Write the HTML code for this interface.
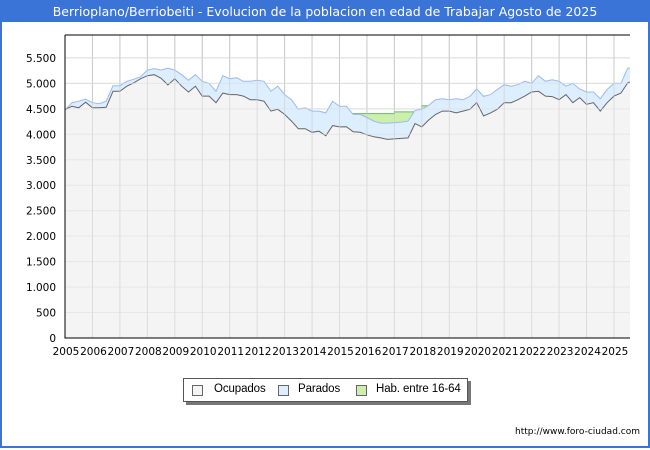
<!DOCTYPE html>
<html><head><meta charset="utf-8"><style>
body{margin:0;width:650px;height:450px;overflow:hidden;background:#fff;font-family:"DejaVu Sans","Liberation Sans",sans-serif}
#frame{position:absolute;left:0;top:0;width:646px;height:446px;border:2px solid #3a74d6;border-top:none}
#title{position:absolute;left:0;top:0;width:650px;height:22px;background:#3a74d6;color:#fff;font-size:12.5px;line-height:23px;text-align:center;white-space:nowrap}
#legend{position:absolute;left:183px;top:378px;width:283px;height:22px;border:1px solid #555;box-shadow:3px 3px 0 #777;background:#fff;font-size:10px;white-space:nowrap;font-family:"Liberation Sans",sans-serif;letter-spacing:-0.1px}
.sw{position:absolute;top:6px;width:9px;height:9px;border:1px solid #666}
.lt{position:absolute;top:4px;line-height:13px;font-size:11.5px}
#foot{position:absolute;right:10px;top:427px;font-size:9px;color:#000}
</style></head><body>
<div id="frame"></div>
<div id="title">Berrioplano/Berriobeiti - Evolucion de la poblacion en edad de Trabajar Agosto de 2025</div>
<svg id="chart" width="650" height="450" style="position:absolute;left:0;top:0"></svg>
<div id="legend">
<span class="sw" style="left:8px;background:#f4f4f4"></span>
<span class="lt" style="left:30px">Ocupados</span>
<span class="sw" style="left:94px;background:#ddeeff"></span>
<span class="lt" style="left:114px">Parados</span>
<span class="sw" style="left:172px;background:#ccf0aa"></span>
<span class="lt" style="left:192px">Hab. entre 16-64</span>
</div>
<div id="foot">http://www.foro-ciudad.com</div>
<script>
const years=[2005,2006,2007,2008,2009,2010,2011,2012,2013,2014,2015,2016,2017,2018,2019,2020,2021,2022,2023,2024,2025];
const yTicks=[0,500,1000,1500,2000,2500,3000,3500,4000,4500,5000,5500];
const yTickLabels=["0","500","1.000","1.500","2.000","2.500","3.000","3.500","4.000","4.500","5.000","5.500"];
const ocupados=[4485,4550,4520,4630,4520,4520,4530,4845,4845,4945,5010,5090,5150,5170,5100,4970,5090,4945,4830,4945,4750,4750,4620,4810,4780,4780,4750,4680,4680,4650,4455,4490,4390,4260,4110,4110,4040,4060,3970,4170,4145,4150,4050,4040,3990,3950,3930,3900,3910,3920,3930,4210,4145,4280,4390,4455,4455,4420,4455,4490,4620,4360,4420,4490,4620,4620,4680,4750,4830,4845,4750,4740,4680,4780,4620,4720,4590,4620,4455,4620,4750,4810,5010,5030];
const activos=[4480,4620,4650,4690,4620,4600,4650,4955,4955,5040,5080,5130,5260,5290,5260,5300,5260,5170,5060,5170,5040,5000,4845,5150,5090,5110,5040,5040,5060,5040,4845,4945,4780,4680,4490,4520,4455,4455,4420,4650,4550,4550,4390,4390,4330,4260,4220,4220,4230,4240,4260,4470,4490,4570,4680,4700,4680,4700,4680,4745,4890,4745,4780,4880,4975,4945,4975,5040,5000,5150,5040,5070,5040,4945,5000,4890,4830,4830,4700,4880,5000,5000,5300,5300];
const hab=[4450,4480,4800,5100,4900,4800,4800,4750,4450,4390,4405,4405,4440,4560,4650,4750,4800,4900,4750,4650,4700];
const X0=65,X1=630,Y0=338,Y1=35,T0=2005,T1=2025+7/12,VMAX=5950;
const xs=t=>X0+(t-T0)/(T1-T0)*(X1-X0);
const ys=v=>Y0-v/VMAX*(Y0-Y1);
const svg=document.getElementById('chart');const NS='http://www.w3.org/2000/svg';
function mk(tag,attrs){const e=document.createElementNS(NS,tag);for(const k in attrs)e.setAttribute(k,attrs[k]);svg.appendChild(e);return e;}
const tq=i=>Math.min(T0+i*0.25,T1);
yTicks.forEach((v,i)=>{const l=mk('line',{x1:X0,x2:X1,y1:ys(v),y2:ys(v),stroke:'#dddddd'});

const t=mk('text',{x:X0-9,y:ys(v)+4,'text-anchor':'end','font-size':10.5});t.textContent=yTickLabels[i];
});
years.forEach(y=>{const l=mk('line',{x1:xs(y),x2:xs(y),y1:Y1,y2:Y0,stroke:'#cccccc'});

const t=mk('text',{x:xs(y)+1,y:Y0+17,'text-anchor':'middle','font-size':10.5});t.textContent=y;
});
let hp='M'+xs(T0)+','+Y0;hab.forEach((v,i)=>{const a=years[i],b=Math.min(a+1,T1);hp+=' L'+xs(a)+','+ys(v)+' L'+xs(b)+','+ys(v);});
const habA=mk('path',{d:hp+' L'+xs(T1)+','+Y0+'Z',fill:'#ccf0aa'});

const habL=mk('path',{d:'M'+hp.split(' L').slice(1).join(' L'),fill:'none',stroke:'#66bb66','stroke-width':1});

function series(arr,fill,stroke,name){let p='';arr.forEach((v,i)=>{p+=(i?' L':'M')+xs(tq(i)).toFixed(1)+','+ys(v).toFixed(1);});
const a=mk('path',{d:p+' L'+xs(T1)+','+Y0+' L'+X0+','+Y0+'Z',fill:fill});

const l=mk('path',{d:p,fill:'none',stroke:stroke,'stroke-width':1});
}
series(activos,'#ddeeff','#99bbee','parados');
series(ocupados,'#f4f4f4','#666666','ocupados');
years.forEach(y=>{const l=mk('line',{x1:xs(y),x2:xs(y),y1:Y1,y2:Y0,stroke:'#cccccc','stroke-opacity':0.6});
});
yTicks.forEach(v=>{const l=mk('line',{x1:X0,x2:X1,y1:ys(v),y2:ys(v),stroke:'#dddddd','stroke-opacity':0.6});
});
const ax=mk('path',{d:`M${X0},${Y1} L${X0},${Y0} L${X1},${Y0}`,fill:'none',stroke:'#000','stroke-width':1});

const tp=mk('line',{x1:X0,x2:X1,y1:Y1,y2:Y1,stroke:'#000'});

</script>
</body></html>
